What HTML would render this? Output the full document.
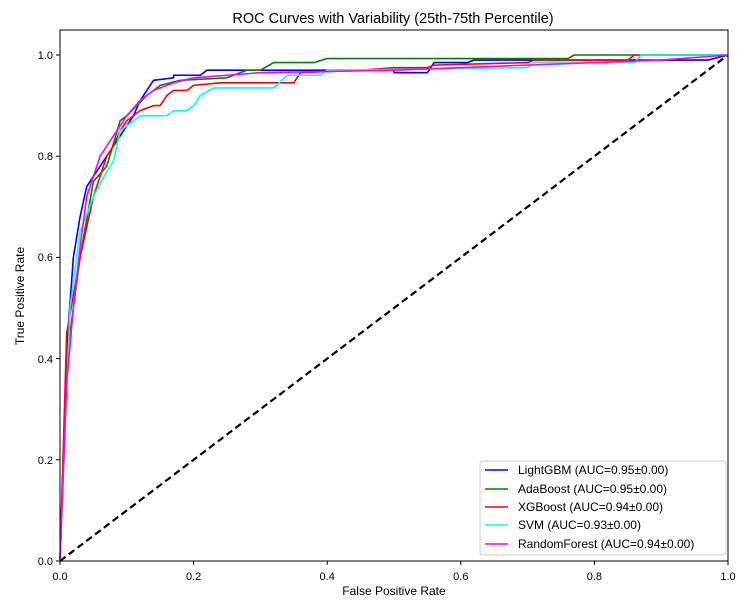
<!DOCTYPE html>
<html><head><style>body{margin:0;background:#fff}svg{display:block;font-family:"Liberation Sans","DejaVu Sans",sans-serif}</style></head><body>
<svg width="755" height="611" viewBox="0 0 755 611" xmlns="http://www.w3.org/2000/svg">
<rect width="755" height="611" fill="#fff"/>
<text x="393" y="23" text-anchor="middle" font-size="14.5">ROC Curves with Variability (25th-75th Percentile)</text>
<g transform="translate(60,561) scale(668,-506)" fill="none" stroke-width="1.6" stroke-linejoin="round">
<polyline vector-effect="non-scaling-stroke" stroke="#000" stroke-width="2.2" stroke-dasharray="7,4" points="0,0 1,1"/>
<polyline vector-effect="non-scaling-stroke" stroke="#0000ff" points="0,0 0.01,0.42 0.02,0.6 0.03,0.68 0.04,0.74 0.05,0.76 0.07,0.8 0.09,0.84 0.11,0.88 0.12,0.91 0.14,0.95 0.17,0.955 0.17,0.96 0.21,0.96 0.22,0.97 0.5,0.97 0.5,0.965 0.55,0.965 0.56,0.985 0.61,0.985 0.62,0.99 0.97,0.99 1,1"/>
<polyline vector-effect="non-scaling-stroke" stroke="#008000" points="0,0 0.01,0.4 0.03,0.6 0.05,0.75 0.07,0.78 0.09,0.87 0.1,0.88 0.13,0.92 0.15,0.94 0.18,0.95 0.25,0.955 0.28,0.97 0.3,0.97 0.32,0.985 0.38,0.985 0.4,0.993 0.76,0.993 0.77,1 1,1"/>
<polyline vector-effect="non-scaling-stroke" stroke="#ff0000" points="0,0 0.01,0.45 0.03,0.6 0.05,0.72 0.06,0.76 0.07,0.8 0.08,0.82 0.09,0.85 0.1,0.87 0.12,0.89 0.14,0.9 0.15,0.9 0.16,0.92 0.17,0.93 0.19,0.93 0.2,0.94 0.24,0.945 0.35,0.945 0.36,0.965 0.45,0.97 0.5,0.975 0.55,0.975 0.56,0.98 0.7,0.985 0.71,0.99 0.85,0.99 0.86,1 1,1"/>
<polyline vector-effect="non-scaling-stroke" stroke="#00ffff" points="0,0 0.015,0.5 0.03,0.65 0.05,0.72 0.07,0.77 0.08,0.79 0.09,0.85 0.1,0.86 0.12,0.88 0.16,0.88 0.17,0.89 0.19,0.89 0.2,0.9 0.21,0.92 0.23,0.935 0.32,0.935 0.34,0.96 0.39,0.96 0.4,0.97 0.7,0.975 0.71,0.985 0.86,0.985 0.87,1 1,1"/>
<polyline vector-effect="non-scaling-stroke" stroke="#ff00ff" points="0,0 0.01,0.35 0.02,0.5 0.03,0.62 0.04,0.72 0.06,0.8 0.08,0.84 0.1,0.88 0.12,0.91 0.14,0.93 0.17,0.945 0.2,0.955 0.25,0.96 0.3,0.965 0.5,0.97 0.7,0.98 0.9,0.99 1,1"/>
</g>
<rect x="60" y="30" width="668" height="531" fill="none" stroke="#000" stroke-width="1"/>
<g stroke="#000" stroke-width="1">
<line x1="60" y1="561" x2="60" y2="565"/><line x1="193.6" y1="561" x2="193.6" y2="565"/><line x1="327.2" y1="561" x2="327.2" y2="565"/><line x1="460.8" y1="561" x2="460.8" y2="565"/><line x1="594.4" y1="561" x2="594.4" y2="565"/><line x1="728" y1="561" x2="728" y2="565"/>
<line x1="56" y1="561" x2="60" y2="561"/><line x1="56" y1="459.8" x2="60" y2="459.8"/><line x1="56" y1="358.6" x2="60" y2="358.6"/><line x1="56" y1="257.4" x2="60" y2="257.4"/><line x1="56" y1="156.2" x2="60" y2="156.2"/><line x1="56" y1="55" x2="60" y2="55"/>
</g>
<g font-size="11" text-anchor="middle">
<text x="60" y="580">0.0</text><text x="193.6" y="580">0.2</text><text x="327.2" y="580">0.4</text><text x="460.8" y="580">0.6</text><text x="594.4" y="580">0.8</text><text x="728" y="580">1.0</text>
</g>
<g font-size="11" text-anchor="end">
<text x="53" y="565">0.0</text><text x="53" y="464">0.2</text><text x="53" y="363">0.4</text><text x="53" y="261">0.6</text><text x="53" y="160">0.8</text><text x="53" y="59">1.0</text>
</g>
<text x="394" y="595" text-anchor="middle" font-size="12">False Positive Rate</text>
<text transform="translate(24,296) rotate(-90)" text-anchor="middle" font-size="12">True Positive Rate</text>
<rect x="480" y="461" width="246" height="94" fill="#fff" stroke="#ccc" rx="3"/>
<g stroke-width="1.6">
<line x1="485" y1="470" x2="508" y2="470" stroke="#0000ff"/>
<line x1="485" y1="489" x2="508" y2="489" stroke="#008000"/>
<line x1="485" y1="507" x2="508" y2="507" stroke="#ff0000"/>
<line x1="485" y1="525" x2="508" y2="525" stroke="#00ffff"/>
<line x1="485" y1="544" x2="508" y2="544" stroke="#ff00ff"/>
</g>
<g font-size="12">
<text x="518" y="474">LightGBM (AUC=0.95±0.00)</text>
<text x="518" y="493">AdaBoost (AUC=0.95±0.00)</text>
<text x="518" y="511">XGBoost (AUC=0.94±0.00)</text>
<text x="518" y="529">SVM (AUC=0.93±0.00)</text>
<text x="518" y="548">RandomForest (AUC=0.94±0.00)</text>
</g>
</svg>
</body></html>
